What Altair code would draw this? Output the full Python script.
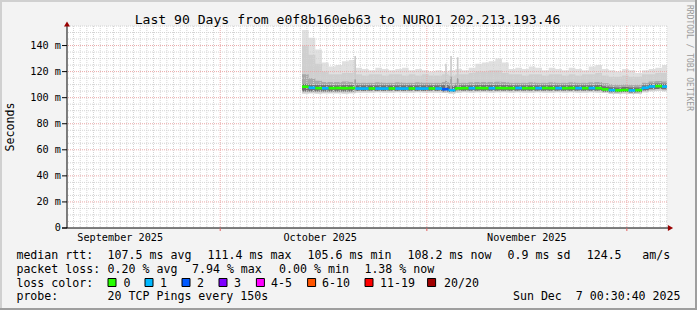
import altair as alt
import pandas as pd

FONT = "DejaVu Sans Mono"
OX, OY = 67, 26          # page position of plot origin (top-left)
W, H = 600, 202

# ---------------- data ----------------
day_starts = [d.strftime("%Y-%m-%dT%H:%M:%S") for d in pd.date_range("2025-10-13 06:30:00", periods=55, freq="D")]
data_end = "2025-12-07T00:30:40"

top = [152,146,137,127,124,125,128,129,123,122,
       121,123,122,121,122,123,121,122,121,120,
       121,120,121,122,121,123,126,127,128,130,
       127,122,123,122,124,123,121,123,122,121,
       123,122,121,124,125,122,121,120,122,121,
       119,121,122,123,125]
hi2 = [140,133,126,120,118,118,119,119,118,117,
       118,118,117,118,118,117,118,117,118,117,
       117,118,117,118,118,119,120,120,121,121,
       119,118,118,117,118,118,117,118,118,117,
       118,117,118,118,119,117,116,116,117,116,
       116,118,118,119,119]
hi3 = [118,115,113,112,112,112,112.5,112,111.5,111.5,
       111.5,111.8,111.5,111.5,111.8,111.5,111.5,111.8,111.5,111.5,
       111.5,112,111,111.5,111.5,111.8,112,112,112,112.3,
       112,111.5,111.5,111.5,111.8,111.5,111.5,111.8,111.5,111.5,
       111.8,111.5,111.5,111.8,112,111,110.3,110,110.2,110,
       110,111.5,112.5,112.8,112.5]
hi4 = [110.5,110,109.8,109.7,109.6,109.6,109.8,109.8,109.5,109.5,
       109.5,109.6,109.5,109.5,109.6,109.5,109.5,109.6,109.5,109.5,
       109.5,109.8,108.8,109.5,109.5,109.6,109.7,109.7,109.7,109.8,
       109.7,109.5,109.5,109.5,109.6,109.5,109.5,109.6,109.5,109.5,
       109.6,109.5,109.5,109.6,109.7,108.8,108,107.9,108.1,107.8,
       107.9,109.6,110.6,110.9,110.6]
median = [108.4,107.6,107.3,107.2,107.3,107.4,107.3,107.4,107.0,107.0,
          107.1,107.0,107.0,107.1,107.0,107.0,107.1,107.0,107.0,107.1,
          107.0,106.5,105.8,107.2,107.3,107.3,107.4,107.3,107.3,107.4,
          107.3,107.3,107.4,107.3,107.3,107.3,107.4,107.3,107.3,107.3,
          107.4,107.3,107.3,107.4,107.3,106.4,105.8,105.7,105.9,105.6,
          105.8,107.6,108.6,108.9,108.5]
lo2 = [104.8,104.8,104.7,104.7,104.7,104.8,104.7,104.8,105.2,105.2,
       105.3,105.2,105.2,105.3,105.2,105.2,105.3,105.2,105.2,105.3,
       105.2,104.8,104.3,105.3,105.3,105.3,105.4,105.3,105.3,105.4,
       105.3,105.3,105.4,105.3,105.3,105.3,105.4,105.3,105.3,105.3,
       105.4,105.3,105.3,105.4,105.3,104.6,104.2,104.1,104.3,104.0,
       104.2,105.5,106.4,106.7,106.4]
lo1 = [103.3,103.4,103.3,103.4,103.4,103.4,103.3,103.4,104.0,104.0,
       104.0,104.1,104.0,104.0,104.1,104.0,104.0,104.1,104.0,104.0,
       104.0,103.6,103.2,104.0,104.1,104.0,104.1,104.1,104.0,104.1,
       104.1,104.0,104.1,104.0,104.0,104.1,104.0,104.0,104.1,104.0,
       104.1,104.0,104.0,104.1,104.0,103.5,103.1,103.0,103.2,102.9,
       103.1,104.2,105.0,105.3,105.0]
loss = [0,1,0,1,0,0,0,0,1,1,
        0,1,1,0,1,1,0,1,1,0,
        1,2,1,0,0,1,0,0,1,0,
        0,0,1,0,0,1,0,0,1,0,
        0,1,0,1,0,0,1,0,0,1,
        0,1,1,0,1]

spike_start = ["2025-10-21T03:00:00", "2025-11-03T18:00:00", "2025-11-04T12:00:00", "2025-11-05T12:00:00"]
spike_end   = ["2025-10-21T09:00:00", "2025-11-04T00:00:00", "2025-11-04T18:00:00", "2025-11-05T18:00:00"]
spike_top   = [132, 126, 132, 131]
spike_mid   = [114, 113, 116, 115]

loss_labels = ["0", "1", "2", "3", "4-5", "6-10", "11-19", "20/20"]
loss_colors = ["#26ff00", "#00b8ff", "#0059ff", "#7e00ff", "#ff00ff", "#ff5500", "#ff0000", "#a10000"]

y_ticks = [0, 20, 40, 60, 80, 100, 120, 140]
y_labels = ["0\u00a0", "20 m", "40 m", "60 m", "80 m", "100 m", "120 m", "140 m"]
month_starts = ["2025-10-01T00:00:00", "2025-11-01T00:00:00", "2025-12-01T00:00:00"]
month_mid = ["2025-09-16T00:00:00", "2025-10-16T00:00:00", "2025-11-16T00:00:00"]
month_labels = ["September 2025", "October 2025", "November 2025"]

title = "Last 90 Days from e0f8b160eb63 to NURO1 202.213.193.46"

# ---------------- scales ----------------
xs = alt.Scale(domain=[alt.DateTime(year=2025, month=9, date=8, hours=0, minutes=30, seconds=40),
                       alt.DateTime(year=2025, month=12, date=7, hours=0, minutes=30, seconds=40)], nice=False)
ys = alt.Scale(domain=[0, 155], nice=False, zero=False)

def ext(a):
    return list(a) + [a[-1]]
smoke = pd.DataFrame({"t": day_starts + [data_end], "top": ext(top), "hi2": ext(hi2), "hi3": ext(hi3),
                      "hi4": ext(hi4), "lo1": ext(lo1), "lo2": ext(lo2)})

def band(lo, hi, color):
    return alt.Chart(smoke).mark_area(color=color, interpolate="step-after").encode(
        x=alt.X("t:T", scale=xs, axis=None),
        y=alt.Y(f"{lo}:Q", scale=ys, axis=None), y2=f"{hi}:Q")

seg = pd.DataFrame({"t0": day_starts, "t1": day_starts[1:] + [data_end], "m": median,
                    "c": [loss_colors[l] for l in loss]})
conn = pd.DataFrame({"t": day_starts[1:], "a": median[:-1], "b": median[1:],
                     "c": [loss_colors[l] for l in loss[1:]]})
spk = pd.DataFrame({"t0": spike_start, "t1": spike_end, "top": spike_top, "mid": spike_mid})

layers = []
minor_y = [v for v in range(5, 156, 5) if v % 20 != 0]
major_y = [v for v in range(20, 141, 20)]
days = [d.strftime("%Y-%m-%dT%H:%M:%S") for d in pd.date_range("2025-09-09", "2025-12-07", freq="D")]
days = [d for d in days if d not in month_starts]

# smoke
layers.append(band("lo1", "top", "#e0e0e0"))
layers.append(band("lo1", "hi2", "#cfcfcf"))
layers.append(band("lo2", "hi3", "#a8a8a8"))
layers.append(band("lo2", "hi4", "#707070"))
layers.append(alt.Chart(spk).mark_rect(color="#cacaca").encode(
    x=alt.X("t0:T", scale=xs, axis=None), x2="t1:T",
    y=alt.Y("top:Q", scale=ys, axis=None), y2=alt.datum(104)))
layers.append(alt.Chart(spk).mark_rect(color="#a0a0a0").encode(
    x=alt.X("t0:T", scale=xs, axis=None), x2="t1:T",
    y=alt.Y("mid:Q", scale=ys, axis=None), y2=alt.datum(105)))

# grid
layers.append(alt.Chart(pd.DataFrame({"v": minor_y})).mark_rule(color="#d4d4d4", strokeDash=[1, 1], strokeWidth=1).encode(
    y=alt.Y("v:Q", scale=ys, axis=None)))
layers.append(alt.Chart(pd.DataFrame({"t": days})).mark_rule(color="#d4d4d4", strokeDash=[1, 1], strokeWidth=1).encode(
    x=alt.X("t:T", scale=xs, axis=None)))
layers.append(alt.Chart(pd.DataFrame({"v": major_y})).mark_rule(color="#eaa8a8", strokeDash=[1, 1], strokeWidth=1).encode(
    y=alt.Y("v:Q", scale=ys, axis=None)))
layers.append(alt.Chart(pd.DataFrame({"t": month_starts})).mark_rule(color="#eaa8a8", strokeDash=[1, 1], strokeWidth=1).encode(
    x=alt.X("t:T", scale=xs, axis=None)))

# median line
layers.append(alt.Chart(conn).mark_rule(strokeWidth=2.6).encode(
    x=alt.X("t:T", scale=xs, axis=None),
    y=alt.Y("a:Q", scale=ys, axis=None), y2="b:Q",
    color=alt.Color("c:N", scale=None)))
layers.append(alt.Chart(seg).mark_rule(strokeWidth=2.6).encode(
    x=alt.X("t0:T", scale=xs, axis=None), x2="t1:T",
    y=alt.Y("m:Q", scale=ys, axis=None),
    color=alt.Color("c:N", scale=None)))

one = pd.DataFrame({"k": [0]})

def prule(x1, y1, x2, y2, color, w=1):
    return alt.Chart(one).mark_rule(color=color, strokeWidth=w).encode(
        x=alt.value(x1 - OX), x2=alt.value(x2 - OX), y=alt.value(y1 - OY), y2=alt.value(y2 - OY))

# axes
layers.append(prule(67, 228, 67, 25, "#000000"))
layers.append(prule(62, 228, 669, 228, "#000000"))
layers.append(alt.Chart(pd.DataFrame({"v": y_ticks})).mark_rule(color="#000000").encode(
    y=alt.Y("v:Q", scale=ys, axis=None), x=alt.value(-5), x2=alt.value(0)))
layers.append(alt.Chart(pd.DataFrame({"t": month_starts})).mark_rule(color="#e06060").encode(
    x=alt.X("t:T", scale=xs, axis=None), y=alt.value(H), y2=alt.value(H + 3)))
layers.append(alt.Chart(one).mark_point(shape="triangle-up", filled=True, size=36, color="#990000", opacity=1).encode(
    x=alt.value(0), y=alt.value(24 - OY)))
layers.append(alt.Chart(one).mark_point(shape="triangle-right", filled=True, size=36, color="#990000", opacity=1).encode(
    x=alt.value(670.5 - OX), y=alt.value(H)))

# axis labels
layers.append(alt.Chart(pd.DataFrame({"v": y_ticks, "s": y_labels})).mark_text(
    align="right", baseline="middle", font=FONT, fontSize=10.2, color="#000000").encode(
    y=alt.Y("v:Q", scale=ys, axis=None), x=alt.value(-6), text="s:N"))
layers.append(alt.Chart(pd.DataFrame({"t": month_mid, "s": month_labels})).mark_text(
    align="center", baseline="alphabetic", font=FONT, fontSize=10.2, color="#000000").encode(
    x=alt.X("t:T", scale=xs, axis=None), y=alt.value(241 - OY), text="s:N"))

def txt(s, X, Y, size=11.6, align="left", baseline="alphabetic", angle=0, color="#000000"):
    return alt.Chart(pd.DataFrame({"s": [s]})).mark_text(
        align=align, baseline=baseline, font=FONT, fontSize=size, angle=angle, color=color).encode(
        x=alt.value(X - OX), y=alt.value(Y - OY), text="s:N")

layers.append(txt(title, 347.5, 24, size=13.1, align="center"))
layers.append(txt("Seconds", 11, 127, size=11.6, align="center", baseline="middle", angle=270))
layers.append(txt("RRDTOOL / TOBI OETIKER", 688.5, 5, size=8, align="left", baseline="middle", angle=90, color="#9a9a9a"))

row1 = [("median rtt:", 16.4), ("107.5 ms avg", 107.6), ("111.4 ms max", 207.6), ("105.6 ms min", 307.6),
        ("108.2 ms now", 407.6), ("0.9 ms sd", 507.6), ("124.5", 586.7), ("am/s", 642.2)]
row2 = [("packet loss:", 16.4), ("0.20 % avg", 107.6), ("7.94 % max", 192.0), ("0.00 % min", 279.1),
        ("1.38 % now", 364.4)]
for s, X in row1:
    layers.append(txt(s, X, 258.5))
for s, X in row2:
    layers.append(txt(s, X, 272.5))
layers.append(txt("loss color:", 16.4, 286.5))
box_x = [108.0, 145.0, 182.0, 219.0, 256.4, 307.6, 365.0, 427.6]
lab_x = [123.6, 160.0, 197.0, 234.0, 271.0, 322.0, 380.0, 444.0]
for bx, lx, lab, col in zip(box_x, lab_x, loss_labels, loss_colors):
    layers.append(alt.Chart(one).mark_rect(fill=col, stroke="#000000", strokeWidth=1).encode(
        x=alt.value(bx - OX), x2=alt.value(bx + 8 - OX), y=alt.value(278.5 - OY), y2=alt.value(286.5 - OY)))
    layers.append(txt(lab, lx, 286.5))
layers.append(txt("probe:", 16.4, 300))
layers.append(txt("20 TCP Pings every 150s", 107.6, 300))
layers.append(txt("Sun Dec\u00a0\u00a07 00:30:40 2025", 680.5, 300, align="right"))

# frame
layers.append(prule(0, 1, 697, 1, "#d0d0d0", 2))
layers.append(prule(1, 0, 1, 310, "#d0d0d0", 2))
layers.append(prule(0, 309, 697, 309, "#9e9e9e", 2))
layers.append(prule(696, 0, 696, 310, "#9e9e9e", 2))

chart = alt.layer(*layers).properties(
    width=W, height=H,
    padding={"left": OX, "top": OY, "right": 697 - OX - W, "bottom": 310 - OY - H},
    autosize=alt.AutoSizeParams(type="none"),
    background="#f3f3f3",
).configure_view(stroke=None, fill="white")

chart.save("out.html", embed_options={"renderer": "svg", "actions": False})
